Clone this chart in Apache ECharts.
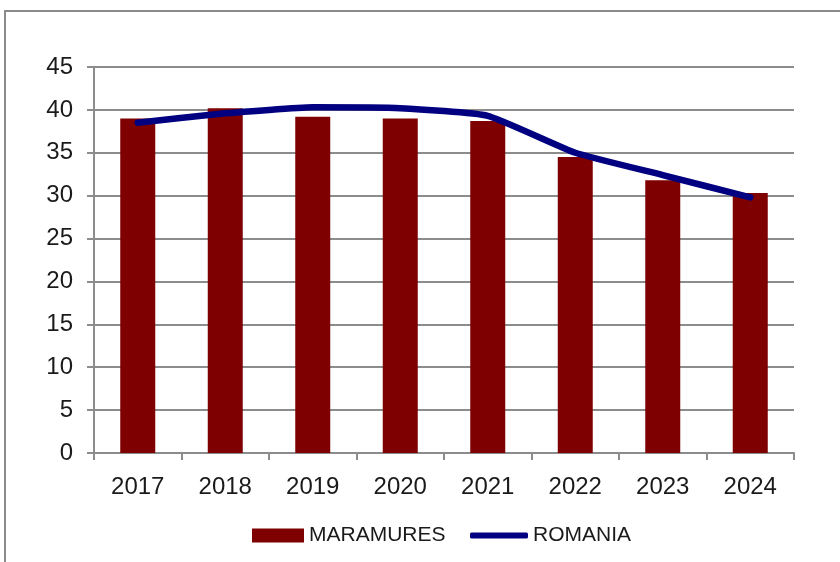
<!DOCTYPE html>
<html>
<head>
<meta charset="utf-8">
<script src="https://cdn.jsdelivr.net/npm/echarts@6/dist/echarts.min.js"></script>
<style>
  html, body { margin: 0; padding: 0; background: #fff; }
  #chart { width: 840px; height: 562px; }
</style>
</head>
<body>
<div id="chart"></div>
<script>
const years = ["2017", "2018", "2019", "2020", "2021", "2022", "2023", "2024"];
const maramures = [39.0, 40.2, 39.2, 39.0, 38.7, 34.5, 31.8, 30.3];
const romania = [38.5, 39.6, 40.3, 40.2, 39.3, 35.0, 32.4, 29.8];

const chart = echarts.init(document.getElementById("chart"), null, {
  renderer: "canvas",
});

const font = "'Liberation Sans', Arial, sans-serif";
const legendText = { fontSize: 21, color: "#1a1a1a", fontFamily: font };

const option = {
  animation: false,
  backgroundColor: "#fff",
  textStyle: { fontFamily: font },
  graphic: [
    {
      type: "rect",
      shape: { x: 5, y: 11, width: 900, height: 600 },
      style: { fill: "none", stroke: "#8a8a8a", lineWidth: 2 },
    },
  ],
  grid: {
    left: 94,
    right: 46,
    top: 67,
    bottom: 109,
  },
  legend: [
    {
      left: 247,
      top: 520,
      itemWidth: 52,
      itemHeight: 14,
      itemGap: 6,
      textStyle: legendText,
      data: [{ name: "MARAMURES", icon: "rect" }],
    },
    {
      left: 465,
      top: 520,
      itemWidth: 58,
      itemHeight: 6,
      textStyle: legendText,
      data: [{ name: "ROMANIA", icon: "roundRect" }],
    },
  ],
  xAxis: {
    type: "category",
    data: years,
    axisLine: { lineStyle: { color: "#8c8c8c", width: 2 } },
    axisTick: { show: true, length: 7, lineStyle: { color: "#8c8c8c", width: 2 } },
    axisLabel: { fontSize: 24, color: "#1a1a1a", margin: 22 },
  },
  yAxis: {
    type: "value",
    min: 0,
    max: 45,
    interval: 5,
    axisLine: { show: true, lineStyle: { color: "#8c8c8c", width: 2 } },
    axisTick: { show: true, length: 7, lineStyle: { color: "#8c8c8c", width: 2 } },
    axisLabel: { fontSize: 24, color: "#1a1a1a", margin: 21 },
    splitLine: { lineStyle: { color: "#8c8c8c", width: 2 } },
  },
  series: [
    {
      name: "MARAMURES",
      type: "bar",
      data: maramures,
      barWidth: "40%",
      itemStyle: { color: "#7f0000" },
    },
    {
      name: "ROMANIA",
      type: "line",
      data: romania,
      smooth: 0.15,
      symbol: "none",
      lineStyle: { color: "#000080", width: 6.5, cap: "round" },
      itemStyle: { color: "#000080" },
    },
  ],
};

option && chart.setOption(option);
</script>
</body>
</html>
